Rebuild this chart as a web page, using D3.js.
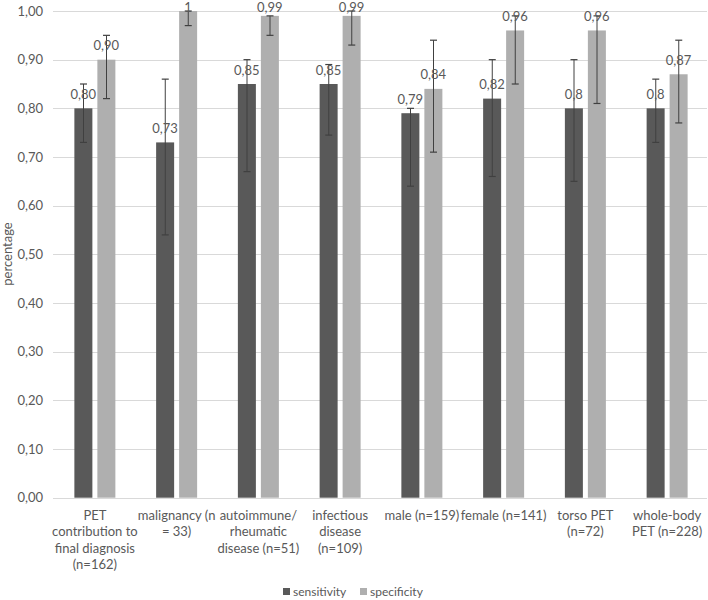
<!DOCTYPE html>
<html>
<head>
<meta charset="utf-8">
<script src="https://cdn.jsdelivr.net/npm/d3@7"></script>
<style>
  body { margin: 0; background: #fff; }
  text { font-family: Lato, "Liberation Sans", sans-serif; fill: #595959; }
</style>
</head>
<body>
<script>
const categories = [
  ['PET', 'contribution to', 'final diagnosis', '(n=162)'],
  ['malignancy (n', '= 33)'],
  ['autoimmune/', 'rheumatic', 'disease (n=51)'],
  ['infectious', 'disease', '(n=109)'],
  ['male (n=159)'],
  ['female (n=141)'],
  ['torso PET', '(n=72)'],
  ['whole-body', 'PET (n=228)']
]
const seriesNames = ['sensitivity', 'specificity']
const sensitivity = [0.80, 0.73, 0.85, 0.85, 0.79, 0.82, 0.80, 0.80]
const specificity = [0.90, 1.00, 0.99, 0.99, 0.84, 0.96, 0.96, 0.87]
const sensLabels = ['0,80', '0,73', '0,85', '0,85', '0,79', '0,82', '0,8', '0,8']
const specLabels = ['0,90', '1', '0,99', '0,99', '0,84', '0,96', '0,96', '0,87']
const sensLow = [0.73, 0.54, 0.67, 0.745, 0.64, 0.66, 0.65, 0.73]
const sensHigh = [0.85, 0.86, 0.90, 0.89, 0.80, 0.90, 0.90, 0.86]
const specLow = [0.82, 0.97, 0.95, 0.93, 0.71, 0.85, 0.81, 0.77]
const specHigh = [0.95, 1.00, 0.99, 1.00, 0.94, 0.99, 0.99, 0.94]
const yTicks = [0, 0.1, 0.2, 0.3, 0.4, 0.5, 0.6, 0.7, 0.8, 0.9, 1.0]

const width = 708
const height = 600
const colors = { sensitivity: '#595959', specificity: '#afafaf' }

const svg = d3.select('body').append('svg').attr('width', width).attr('height', height)

const x0 = d3.scaleBand().domain(d3.range(categories.length)).range([54, 708]).padding(0)
const x1 = d3.scaleBand().domain(seriesNames).range([0, x0.bandwidth()]).paddingInner(0.217).paddingOuter(0.886)
const y = d3.scaleLinear().domain([0, 1]).range([497.7, 11])

const locale = d3.formatLocale({ decimal: ',', thousands: '.', grouping: [3], currency: ['', ''] })
const fmt = locale.format('.2f')

// gridlines
svg.append('g').selectAll('line').data(yTicks).enter().append('line')
  .attr('x1', 53).attr('x2', 707)
  .attr('y1', d => Math.round(y(d)) + 0.5).attr('y2', d => Math.round(y(d)) + 0.5)
  .attr('stroke', '#d9d9d9').attr('stroke-width', 1)

// y axis labels
const yAxis = d3.axisLeft(y).tickValues(yTicks).tickFormat(fmt).tickSize(0).tickPadding(0)
const yg = svg.append('g').attr('transform', 'translate(43,0)').call(yAxis)
yg.select('.domain').remove()
yg.selectAll('text').style('font-size', '13px').attr('fill', '#595959').style('font-family', 'Lato, sans-serif')

svg.append('text').attr('transform', 'translate(12,254) rotate(-90)')
  .attr('text-anchor', 'middle').style('font-size', '13px').text('percentage')

const rows = categories.map((c, i) => ({
  i,
  series: [
    { key: 'sensitivity', v: sensitivity[i], lo: sensLow[i], hi: sensHigh[i], label: sensLabels[i] },
    { key: 'specificity', v: specificity[i], lo: specLow[i], hi: specHigh[i], label: specLabels[i] }
  ]
}))

const groups = svg.selectAll('.grp').data(rows).enter().append('g')
  .attr('class', 'grp').attr('transform', d => `translate(${x0(d.i)},0)`)

groups.selectAll('rect').data(d => d.series).enter().append('rect')
  .attr('x', d => x1(d.key)).attr('width', x1.bandwidth())
  .attr('y', d => y(d.v)).attr('height', d => y(0) - y(d.v))
  .attr('fill', d => colors[d.key])

// error bars
const eb = groups.selectAll('.eb').data(d => d.series).enter().append('g').attr('class', 'eb')
  .attr('transform', d => `translate(${Math.round(x1(d.key) + x1.bandwidth() / 2) + 0.5},0)`)
eb.append('line').attr('x1', 0).attr('x2', 0).attr('y1', d => y(d.lo)).attr('y2', d => y(d.hi))
  .attr('stroke', '#404040').attr('stroke-width', 1)
eb.append('line').attr('x1', -3.5).attr('x2', 3.5).attr('y1', d => y(d.lo)).attr('y2', d => y(d.lo))
  .attr('stroke', '#404040').attr('stroke-width', 1.2)
eb.append('line').attr('x1', -3.5).attr('x2', 3.5).attr('y1', d => y(d.hi)).attr('y2', d => y(d.hi))
  .attr('stroke', '#404040').attr('stroke-width', 1.2)

// value labels
groups.selectAll('.val').data(d => d.series).enter().append('text').attr('class', 'val')
  .attr('x', d => x1(d.key) + x1.bandwidth() / 2)
  .attr('y', d => Math.max(y(d.v) - 9.5, 12))
  .attr('text-anchor', 'middle').style('font-size', '13px').text(d => d.label)

// category labels
groups.each(function (d) {
  const t = d3.select(this).append('text').attr('text-anchor', 'middle').style('font-size', '13px')
  categories[d.i].forEach((line, k) => {
    t.append('tspan').attr('x', x0.bandwidth() / 2).attr('y', 519.5 + k * 16.5).text(line)
  })
})

// legend
const legendX = [283, 360]
const lg = svg.selectAll('.lg').data(seriesNames).enter().append('g').attr('class', 'lg')
  .attr('transform', (d, i) => `translate(${legendX[i]},588)`)
lg.append('rect').attr('width', 7).attr('height', 7).attr('fill', d => colors[d])
lg.append('text').attr('x', 10).attr('y', 8).style('font-size', '12px').text(d => d)
</script>
</body>
</html>
